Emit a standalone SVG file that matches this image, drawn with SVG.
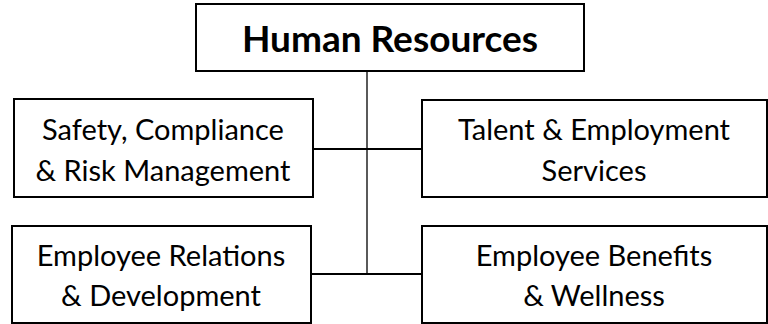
<svg xmlns="http://www.w3.org/2000/svg" width="768" height="324" viewBox="0 0 768 324">
<style>
.box{fill:#fff;stroke:#000;stroke-width:2}
.t{font-family:Lato,"Liberation Sans",sans-serif;font-size:29px;fill:#000;text-anchor:middle}
.h{font-family:Lato,"Liberation Sans",sans-serif;font-size:37px;font-weight:bold;fill:#000;text-anchor:middle}
.c{stroke:#000;fill:none}
</style>
<rect width="768" height="324" fill="#fff"/>
<g id="connectors">
<line class="c" x1="367" y1="71" x2="367" y2="274" stroke-width="1.3"/>
<line class="c" x1="313" y1="149" x2="422" y2="149" stroke-width="2"/>
<line class="c" x1="311" y1="274" x2="422" y2="274" stroke-width="2"/>
</g>
<g id="hr">
<rect class="box" x="196" y="4" width="388" height="67" stroke-width="2.5"/>
<text class="h" x="390" y="52">Human Resources</text>
</g>
<g id="safety">
<rect class="box" x="14" y="99" width="299" height="98"/>
<text class="t" x="163" y="140">Safety, Compliance</text>
<text class="t" x="163" y="181">&amp; Risk Management</text>
</g>
<g id="talent">
<rect class="box" x="422" y="100" width="345" height="97"/>
<text class="t" x="594" y="140">Talent &amp; Employment</text>
<text class="t" x="594" y="181">Services</text>
</g>
<g id="relations">
<rect class="box" x="12" y="226" width="299" height="97"/>
<text class="t" x="161" y="266">Employee Relations</text>
<text class="t" x="161" y="306">&amp; Development</text>
</g>
<g id="benefits">
<rect class="box" x="422" y="226" width="345" height="97"/>
<text class="t" x="594" y="266">Employee Benefits</text>
<text class="t" x="594" y="306">&amp; Wellness</text>
</g>
</svg>
